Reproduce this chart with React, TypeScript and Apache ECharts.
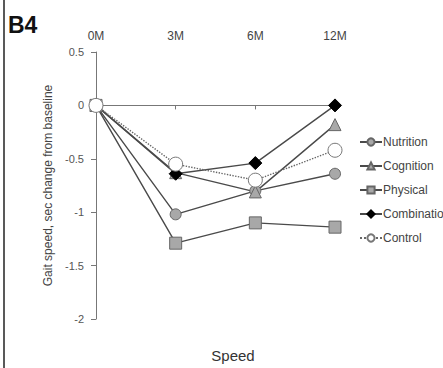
import React, { useEffect, useRef } from "react";
import * as echarts from "echarts";

const categories = ["0M", "3M", "6M", "12M"];
const nutrition = [0, -1.02, -0.8, -0.64];
const cognition = [0, -0.63, -0.81, -0.18];
const physical = [0, -1.29, -1.1, -1.14];
const combination = [0, -0.64, -0.54, 0];
const control = [0, -0.55, -0.7, -0.42];

export default function App() {
  const ref = useRef<HTMLDivElement>(null);
  useEffect(() => {
    if (!ref.current) return;
    const chart = echarts.init(ref.current, undefined, { renderer: "svg" });
    const font = "Liberation Sans, Arial, sans-serif";
    const line = (name: string, data: number[], symbol: string, size: number, fill: string, border: string, dotted = false) => ({
      name,
      type: "line",
      data,
      symbol,
      symbolSize: size,
      itemStyle: { color: fill, borderColor: border, borderWidth: 1 },
      lineStyle: { color: dotted ? "#666" : "#4a4a4a", width: 1.4, type: dotted ? "dotted" : "solid" },
    });
    chart.setOption({
      animation: false,
      backgroundColor: "#fff",
      textStyle: { fontFamily: font },
      grid: { left: 96, right: 108, top: 52, bottom: 49, containLabel: false },
      xAxis: {
        type: "category",
        data: categories,
        position: "top",
        boundaryGap: false,
        axisLine: { lineStyle: { color: "#777", width: 1 } },
        axisTick: { inside: true, length: 4, lineStyle: { color: "#777" } },
        axisLabel: { fontSize: 12, color: "#444", margin: 10, fontFamily: font },
      },
      yAxis: {
        type: "value",
        min: -2,
        max: 0.5,
        interval: 0.5,
        name: "Gait speed, sec change from baseline",
        nameLocation: "middle",
        nameGap: 30,
        nameTextStyle: { fontSize: 12, color: "#444", fontFamily: font },
        splitLine: { show: false },
        axisLine: { show: true, lineStyle: { color: "#777", width: 1 } },
        axisTick: { show: true, length: 5, lineStyle: { color: "#777" } },
        axisLabel: { fontSize: 11, color: "#555", margin: 12, fontFamily: font },
      },
      legend: {
        orient: "vertical",
        left: 354,
        top: 131,
        itemGap: 12,
        itemWidth: 22,
        itemHeight: 9,
        textStyle: { fontSize: 12, color: "#444", fontFamily: font, padding: [0, 0, 0, -4] },
        data: ["Nutrition", "Cognition", "Physical", "Combination", "Control"],
      },
      graphic: [
        { type: "line", shape: { x1: 4, y1: 0, x2: 4, y2: 368 }, style: { stroke: "#222", lineWidth: 1.5 } },
        { type: "text", x: 8, y: 25, style: { text: "B4", font: "bold 23px Liberation Sans, Arial, sans-serif", fill: "#111", textVerticalAlign: "middle" } },
        { type: "text", x: 233, y: 355, style: { text: "Speed", font: "15px Liberation Sans, Arial, sans-serif", fill: "#333", textAlign: "center", textVerticalAlign: "middle" } },
      ],
      series: [
        line("Nutrition", nutrition, "circle", 11, "#a8a8a8", "#666"),
        line("Cognition", cognition, "triangle", 12, "#a8a8a8", "#666"),
        line("Physical", physical, "rect", 12, "#a8a8a8", "#666"),
        line("Combination", combination, "diamond", 13, "#000", "#000"),
        line("Control", control, "circle", 14, "#fff", "#777", true),
      ],
    });
    return () => chart.dispose();
  }, []);
  return <div ref={ref} style={{ position: "absolute", left: 0, top: 0, width: 443, height: 368 }} />;
}
